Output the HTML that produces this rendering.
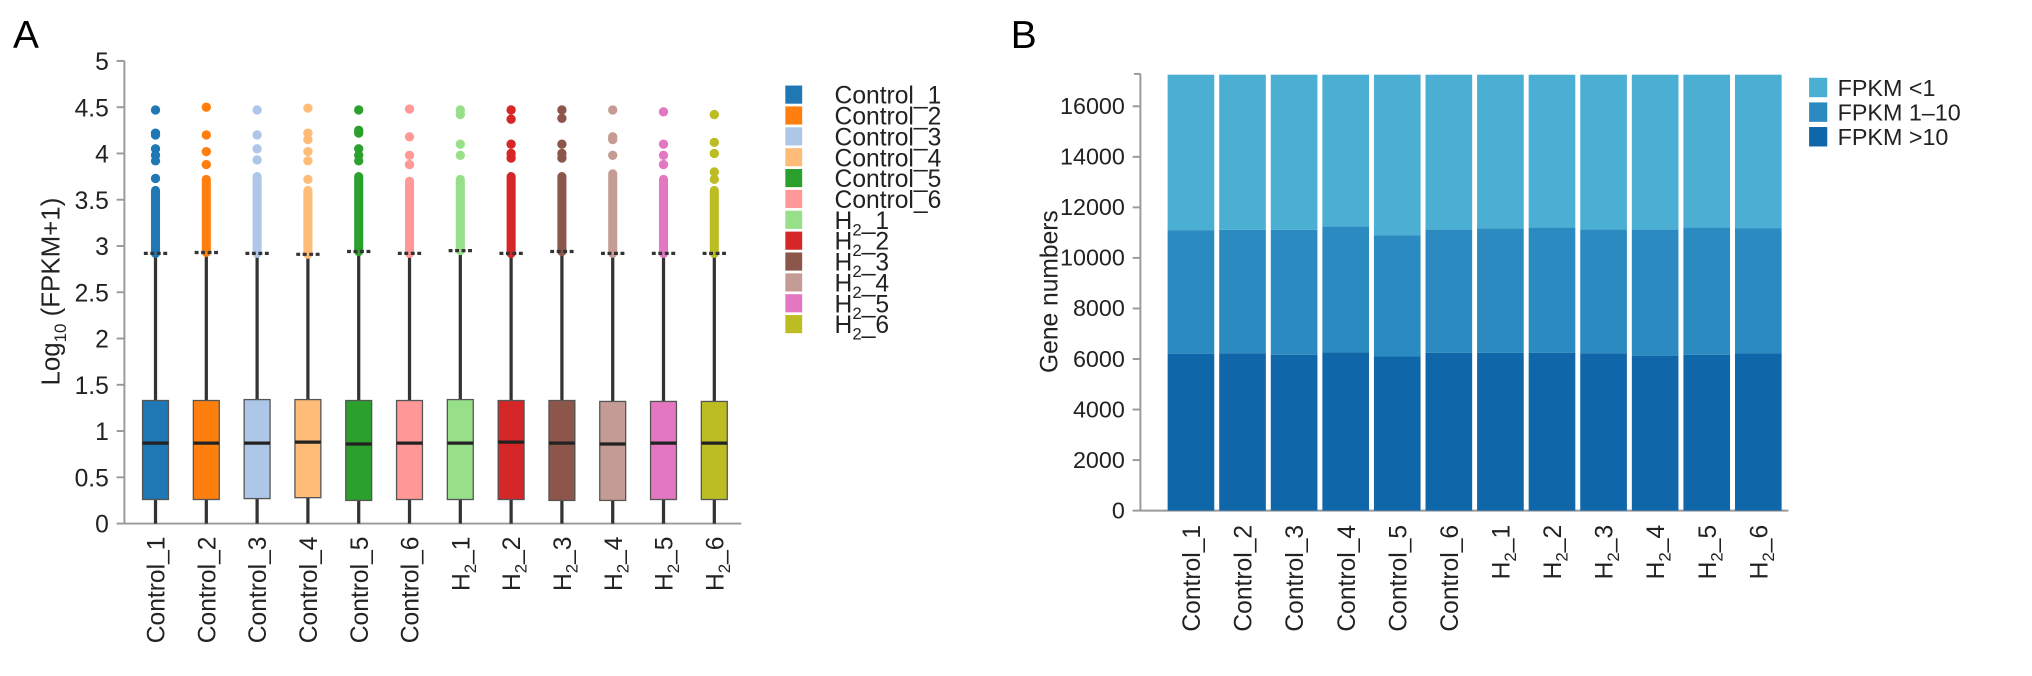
<!DOCTYPE html>
<html><head><meta charset="utf-8"><style>
body{margin:0;background:#fff;}
svg{display:block;font-family:"Liberation Sans",Arial,sans-serif;}
</style></head><body>
<svg id="fig" width="2032" height="676" viewBox="0 0 1568 521.6">
<text x="10" y="37" font-size="30">A</text>
<text x="780" y="37" font-size="30">B</text>
<g id="ga"></g>
<g id="gb"></g>
</svg>
<script>
// Panel A data
const samples = ["Control_1","Control_2","Control_3","Control_4","Control_5","Control_6","H2_1","H2_2","H2_3","H2_4","H2_5","H2_6"];
const boxColors = ["#1f77b4","#ff7f0e","#aec7e8","#ffbb78","#2ca02c","#ff9896","#98df8a","#d62728","#8c564b","#c49c94","#e377c2","#bcbd22"];
const q1 = [0.26,0.26,0.27,0.28,0.25,0.26,0.26,0.26,0.25,0.25,0.26,0.26];
const medians = [0.87,0.87,0.87,0.88,0.86,0.87,0.87,0.88,0.87,0.86,0.87,0.87];
const q3 = [1.33,1.33,1.34,1.34,1.33,1.33,1.34,1.33,1.33,1.32,1.32,1.32];
const whiskLo = [0,0,0,0,0,0,0,0,0,0,0,0];
const whiskHi = [2.92,2.93,2.92,2.91,2.94,2.92,2.95,2.92,2.94,2.92,2.92,2.92];
const denseTop = [3.6,3.72,3.75,3.6,3.75,3.7,3.72,3.75,3.75,3.78,3.72,3.6];
const outliers = [[4.47,4.2,4.22,4.05,3.98,3.92,3.73],[4.5,4.2,4.02,3.88],[4.47,4.2,4.05,3.93],[4.49,4.22,4.15,4.02,3.92,3.72],[4.47,4.25,4.22,4.05,3.98,3.92],[4.48,4.18,3.98,3.88],[4.47,4.42,4.1,3.98],[4.47,4.37,4.1,4.0,3.95],[4.47,4.38,4.1,4.0,3.95],[4.47,4.18,4.15,3.98],[4.45,4.1,3.98,3.88],[4.42,4.12,4.0,3.8,3.72]];
const yTicksA = [0,0.5,1,1.5,2,2.5,3,3.5,4,4.5,5];
// Panel B data
const fpkmGt10 = [6200,6230,6170,6270,6100,6250,6240,6250,6230,6120,6170,6220];
const fpkm1to10 = [4900,4880,4940,4980,4800,4870,4930,4950,4900,5000,5030,4960];
const fpkmLt1 = [6150,6140,6140,6000,6350,6130,6080,6050,6120,6130,6050,6070];
const yTicksB = [0,2000,4000,6000,8000,10000,12000,14000,16000];
const legendB = ["FPKM <1","FPKM 1–10","FPKM >10"];
const barColors = ["#4bafd3","#2b8bc0","#0f67aa"];

const NS="http://www.w3.org/2000/svg";
function mk(tag,attrs,parent,txt){const e=document.createElementNS(NS,tag);for(const k in attrs)e.setAttribute(k,attrs[k]);if(txt!==undefined)e.textContent=txt;parent.appendChild(e);return e;}
function sampleLabel(t,s){ if(s.startsWith("H2")){t.textContent="H";const ts=document.createElementNS(NS,"tspan");ts.setAttribute("font-size","13");ts.setAttribute("dy","5");ts.textContent="2";t.appendChild(ts);const t2=document.createElementNS(NS,"tspan");t2.setAttribute("dy","-5");t2.textContent=s.slice(2);t.appendChild(t2);} else t.textContent=s; }

// Panel A
const ga=document.getElementById("ga");
const yA=v=>404-v*71.4, xA=i=>120+i*39.2;
mk("line",{x1:96,y1:yA(5),x2:96,y2:404,stroke:"#999","stroke-width":1.5},ga);
mk("line",{x1:96,y1:404,x2:572,y2:404,stroke:"#999","stroke-width":1.5},ga);
yTicksA.forEach(v=>{
  mk("line",{x1:90,y1:yA(v),x2:96,y2:yA(v),stroke:"#999","stroke-width":1.5},ga);
  const t=mk("text",{x:84,y:yA(v)+7,"font-size":19,"text-anchor":"end",fill:"#222"},ga,String(v));
  
  
});
const yt=mk("text",{transform:"translate(46,225) rotate(-90)","font-size":20,"text-anchor":"middle",fill:"#222"},ga);


yt.innerHTML='Log<tspan font-size="13" dy="5">10</tspan><tspan dy="-5"> (FPKM+1)</tspan>';
samples.forEach((s,i)=>{
  const g=mk("g",{},ga);
  
  
  const x=xA(i), c=boxColors[i];
  mk("line",{x1:x,y1:yA(whiskHi[i]),x2:x,y2:yA(whiskLo[i]),stroke:"#333","stroke-width":2.5},g);
  mk("line",{x1:x,y1:yA(whiskHi[i]),x2:x,y2:yA(denseTop[i]),stroke:c,"stroke-width":7,"stroke-linecap":"round"},g);
  outliers[i].forEach(v=>mk("circle",{cx:x,cy:yA(v),r:3.6,fill:c},g));
  mk("line",{x1:x-9,y1:yA(whiskHi[i]),x2:x+9,y2:yA(whiskHi[i]),stroke:"#333","stroke-width":2.5,"stroke-dasharray":"3,2"},g);
  mk("rect",{x:x-10,y:yA(q3[i]),width:20,height:yA(q1[i])-yA(q3[i]),fill:c,stroke:"#555","stroke-width":1},g);
  mk("line",{x1:x-10,y1:yA(medians[i]),x2:x+10,y2:yA(medians[i]),stroke:"#222","stroke-width":2.5},g);
  const t=mk("text",{transform:`translate(${x+7},414) rotate(-90)`,"font-size":19,"text-anchor":"end",fill:"#222"},ga);
  sampleLabel(t,s);
  
  
  const ly=74+i*16.1;
  const r=mk("rect",{x:606,y:ly-8,width:13,height:14,fill:c},ga);
  
  
  const lt=mk("text",{x:644,y:ly+6,"font-size":19,fill:"#222"},ga);
  sampleLabel(lt,s);
  
  
});

// Panel B
const gb=document.getElementById("gb");
const yB=v=>394-v*0.0195, xB=i=>919+i*39.8;
mk("line",{x1:880,y1:57,x2:880,y2:394,stroke:"#999","stroke-width":1.5},gb);
mk("line",{x1:880,y1:394,x2:1380,y2:394,stroke:"#999","stroke-width":1.5},gb);
mk("line",{x1:875,y1:57,x2:880,y2:57,stroke:"#999","stroke-width":1.5},gb);
yTicksB.forEach(v=>{
  mk("line",{x1:874,y1:yB(v),x2:880,y2:yB(v),stroke:"#999","stroke-width":1.5},gb);
  const t=mk("text",{x:868,y:yB(v)+6,"font-size":18,"text-anchor":"end",fill:"#222"},gb,String(v));
  
  
});
const ytb=mk("text",{transform:"translate(816,225) rotate(-90)","font-size":19,"text-anchor":"middle",fill:"#222"},gb,"Gene numbers");


samples.forEach((s,i)=>{
  const x=xB(i), w=36;
  const a=fpkmGt10[i], b=a+fpkm1to10[i], c=b+fpkmLt1[i];
  const r1=mk("rect",{x:x-w/2,y:yB(a),width:w,height:yB(0)-yB(a),fill:barColors[2]},gb);
  
  
  const r2=mk("rect",{x:x-w/2,y:yB(b),width:w,height:yB(a)-yB(b),fill:barColors[1]},gb);
  
  
  const r3=mk("rect",{x:x-w/2,y:yB(c),width:w,height:yB(b)-yB(c),fill:barColors[0]},gb);
  
  
  const t=mk("text",{transform:`translate(${x+7},405) rotate(-90)`,"font-size":19,"text-anchor":"end",fill:"#222"},gb);
  sampleLabel(t,s);
  
  
});
legendB.forEach((l,i)=>{
  const ly=68+i*19;
  const r=mk("rect",{x:1396,y:ly-8,width:14,height:15,fill:barColors[i]},gb);
  
  
  const t=mk("text",{x:1418,y:ly+6,"font-size":18,fill:"#222"},gb,l);
  
  
});
</script>
</body></html>
